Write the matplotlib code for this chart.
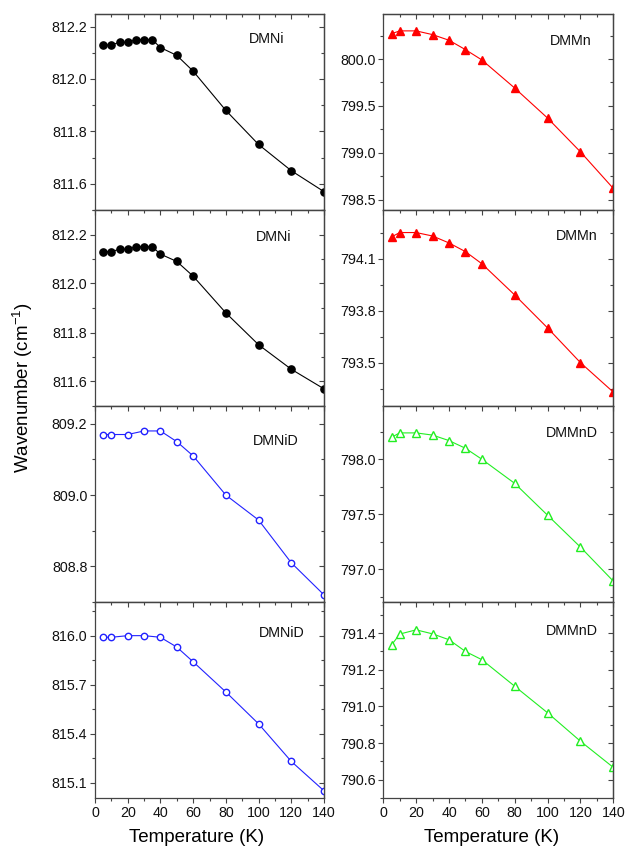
import matplotlib
matplotlib.use("Agg")
import matplotlib.pyplot as plt
from matplotlib.ticker import MultipleLocator

plt.rcParams["font.family"] = ["Liberation Sans", "DejaVu Sans"]
plt.rcParams["mathtext.default"] = "regular"

# temperatures (K)
t_dmni = [5, 10, 15, 20, 25, 30, 35, 40, 50, 60, 80, 100, 120, 140]
t_std = [5, 10, 20, 30, 40, 50, 60, 80, 100, 120, 140]

# wavenumbers (cm-1)
dmni = [812.13, 812.13, 812.14, 812.14, 812.15, 812.15, 812.15, 812.12,
        812.09, 812.03, 811.88, 811.75, 811.65, 811.57]
dmnid_a = [809.17, 809.17, 809.17, 809.18, 809.18, 809.15, 809.11,
           809.00, 808.93, 808.81, 808.72]
dmnid_b = [815.99, 815.99, 816.00, 816.00, 815.99, 815.93, 815.84,
           815.655, 815.46, 815.23, 815.05]
dmmn_a = [800.27, 800.30, 800.30, 800.26, 800.20, 800.10, 799.99,
          799.69, 799.37, 799.01, 798.62]
dmmn_b = [794.225, 794.25, 794.25, 794.23, 794.19, 794.14, 794.07,
          793.89, 793.70, 793.50, 793.33]
dmmnd_a = [798.20, 798.24, 798.24, 798.22, 798.17, 798.10, 798.00,
           797.78, 797.49, 797.20, 796.89]
dmmnd_b = [791.335, 791.395, 791.418, 791.396, 791.364, 791.30, 791.255,
           791.11, 790.965, 790.81, 790.667]

# (col, row, x, y, label, color, marker, filled, ylim, major, minor, label pos)
panels = [
    (0, 0, t_dmni, dmni, "DMNi", "black", "o", True, (811.5, 812.248), 0.2, 0.1, (0.75, 0.87)),
    (0, 1, t_dmni, dmni, "DMNi", "black", "o", True, (811.5, 812.30), 0.2, 0.1, (0.78, 0.86)),
    (0, 2, t_std, dmnid_a, "DMNiD", "#2222ff", "o", False, (808.70, 809.25), 0.2, 0.1, (0.79, 0.82)),
    (0, 3, t_std, dmnid_b, "DMNiD", "#2222ff", "o", False, (815.006, 816.206), 0.3, 0.15, (0.815, 0.84)),
    (1, 0, t_std, dmmn_a, "DMMn", "#ff0000", "^", True, (798.39, 800.48), 0.5, 0.25, (0.815, 0.86)),
    (1, 1, t_std, dmmn_b, "DMMn", "#ff0000", "^", True, (793.25, 794.38), 0.3, 0.15, (0.84, 0.867)),
    (1, 2, t_std, dmmnd_a, "DMMnD", "#22ee22", "^", False, (796.70, 798.485), 0.5, 0.25, (0.82, 0.864)),
    (1, 3, t_std, dmmnd_b, "DMMnD", "#22ee22", "^", False, (790.50, 791.57), 0.2, 0.1, (0.82, 0.85)),
]

W, H = 625, 848
col_x = [95, 383.3]
col_w = [229, 230]
top, row_h = 14, 196
spine_c = "#444444"

fig = plt.figure(figsize=(W / 100, H / 100), dpi=100)

for col, row, x, y, label, color, marker, filled, ylim, major, minor, lpos in panels:
    bottom = H - (top + row_h * (row + 1))
    ax = fig.add_axes([col_x[col] / W, bottom / H, col_w[col] / W, row_h / H])
    ms = 5.2 if marker == "o" else 6.2
    if not filled:
        ms -= 0.6
    ax.plot(x, y, color=color, lw=0.8, marker=marker, ms=ms,
            mfc=color if filled else "white", mec=color, mew=1.0)
    ax.set_xlim(0, 140)
    ax.set_ylim(*ylim)
    ax.xaxis.set_major_locator(MultipleLocator(20))
    ax.xaxis.set_minor_locator(MultipleLocator(10))
    ax.yaxis.set_major_locator(MultipleLocator(major))
    ax.yaxis.set_minor_locator(MultipleLocator(minor))
    ax.yaxis.set_major_formatter(lambda v, _: f"{v:.1f}")
    for s in ax.spines.values():
        s.set_color(spine_c)
        s.set_linewidth(0.9)
    ax.tick_params(which="both", direction="out", color=spine_c, width=0.8,
                   labelsize=10.3, labelcolor="#111111", pad=2)
    ax.tick_params(which="major", length=3.5)
    ax.tick_params(which="minor", length=2)
    if row < 3:
        ax.tick_params(axis="x", labelbottom=False)

    # mirrored ticks pointing inward on top and right
    secx = ax.secondary_xaxis("top")
    secx.xaxis.set_major_locator(MultipleLocator(20))
    secx.xaxis.set_minor_locator(MultipleLocator(10))
    secy = ax.secondary_yaxis("right")
    secy.yaxis.set_major_locator(MultipleLocator(major))
    secy.yaxis.set_minor_locator(MultipleLocator(minor))
    for sec in (secx, secy):
        sec.tick_params(which="both", direction="in", color=spine_c, width=0.8,
                        labeltop=False, labelright=False)
        sec.tick_params(which="major", length=3.5)
        sec.tick_params(which="minor", length=2)
        for sp in sec.spines.values():
            sp.set_color(spine_c)
            sp.set_linewidth(0.9)

    ax.text(lpos[0], lpos[1], label, transform=ax.transAxes, ha="center",
            va="center", fontsize=10.3, color="#111111")

fig.text(197 / W, 1 - 838 / H, "Temperature (K)", ha="center", va="center", fontsize=13.5)
fig.text(492 / W, 1 - 838 / H, "Temperature (K)", ha="center", va="center", fontsize=13.5)
fig.text(23 / W, 1 - 388 / H, "Wavenumber (cm$^{-1}$)", ha="center", va="center",
         rotation=90, fontsize=13.5)

fig.savefig("out.png", dpi=100)
